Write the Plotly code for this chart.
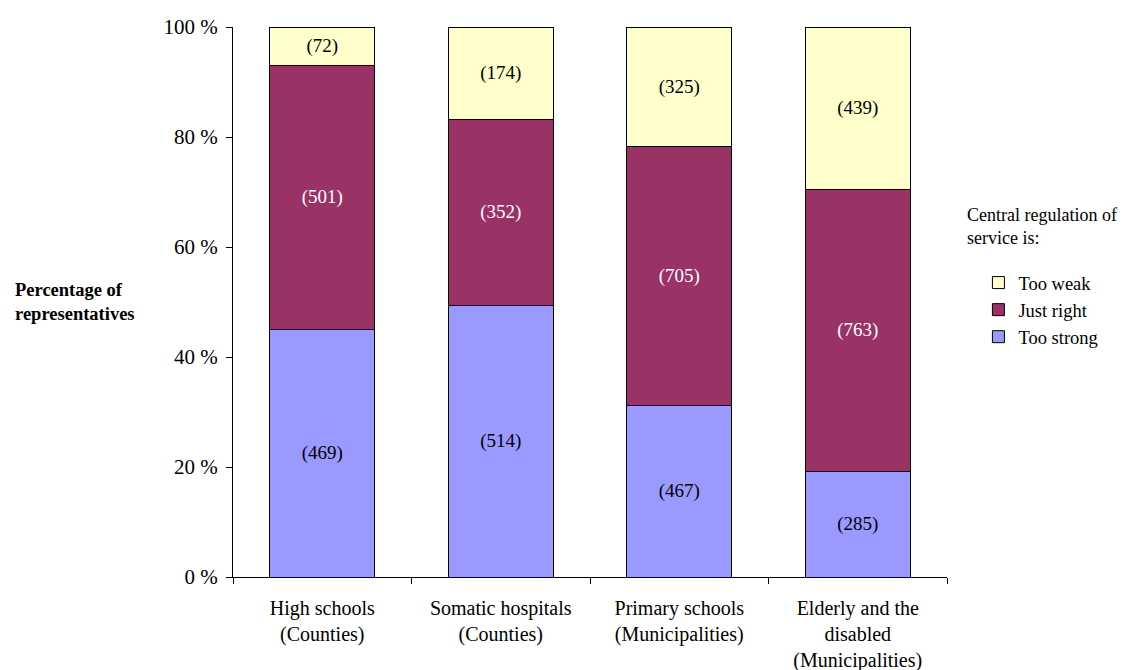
import plotly.graph_objects as go

# Survey of local representatives: counts per answer category
categories = [
    "High schools<br>(Counties)",
    "Somatic hospitals<br>(Counties)",
    "Primary schools<br>(Municipalities)",
    "Elderly and the<br>disabled<br>(Municipalities)",
]
too_strong = [469, 514, 467, 285]
just_right = [501, 352, 705, 763]
too_weak = [72, 174, 325, 439]

series = [
    ("Too strong", too_strong, "#9999FF", "black"),
    ("Just right", just_right, "#993366", "white"),
    ("Too weak", too_weak, "#FFFFCC", "black"),
]

FONT = "Liberation Serif, Times New Roman, serif"

fig = go.Figure()
for name, counts, color, txtcolor in series:
    fig.add_trace(go.Bar(
        x=categories,
        y=counts,
        name=name,
        marker=dict(color=color, line=dict(color="black", width=1)),
        text=[f"({c})" for c in counts],
        textposition="inside",
        insidetextanchor="middle",
        textangle=0,
        textfont=dict(family=FONT, size=19, color=txtcolor),
        hoverinfo="skip",
    ))

fig.update_layout(
    width=1123,
    height=670,
    barmode="stack",
    barnorm="percent",
    bargap=0.41,
    plot_bgcolor="white",
    paper_bgcolor="white",
    font=dict(family=FONT, size=19, color="black"),
    margin=dict(l=233, r=176, t=27, b=93, autoexpand=False),
    showlegend=True,
    legend=dict(
        traceorder="reversed",
        x=1.044, y=0.569, xanchor="left", yanchor="top",
        font=dict(family=FONT, size=18.5),
        itemwidth=30,
        tracegroupgap=0,
        bgcolor="rgba(0,0,0,0)",
    ),
    uniformtext=dict(mode="show", minsize=12),
)

fig.update_xaxes(
    showline=True, linecolor="black", linewidth=1,
    ticks="outside", tickson="boundaries", ticklen=6, tickcolor="black",
    ticklabelstandoff=13, automargin=False,
    showgrid=False, tickfont=dict(family=FONT, size=20),
)
fig.update_yaxes(
    range=[0, 100], dtick=20, ticksuffix=" %",
    showline=True, linecolor="black", linewidth=1,
    ticks="outside", ticklen=6, tickcolor="black",
    ticklabelstandoff=4, automargin=False,
    showgrid=False, zeroline=False, tickfont=dict(family=FONT, size=21),
)

# Vertical axis caption, drawn horizontally to the left
fig.add_annotation(
    text="<b>Percentage of<br>representatives</b>",
    xref="paper", yref="paper", x=-0.308, y=0.5,
    xanchor="left", yanchor="middle", align="left", showarrow=False,
    font=dict(family=FONT, size=18.5),
)
# Legend heading
fig.add_annotation(
    text="Central regulation of<br>service is:",
    xref="paper", yref="paper", x=1.025, y=0.638,
    xanchor="left", yanchor="middle", align="left", showarrow=False,
    font=dict(family=FONT, size=18),
)

fig.write_html("out.html")
